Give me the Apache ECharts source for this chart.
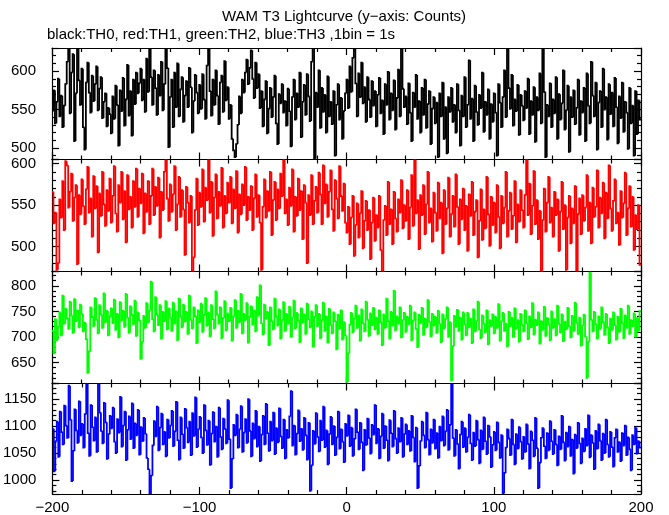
<!DOCTYPE html>
<html><head><meta charset="utf-8">
<script src="https://cdn.jsdelivr.net/npm/echarts@6/dist/echarts.min.js"></script>
<style>html,body{margin:0;padding:0;background:#fff}#c{width:669px;height:515px}</style>
</head><body><div id="c"></div>
<script>
// Counts per 1 s bin, from t = -200 s to t = +200 s
const th0 = [
548,575,532,560,590,541,568,527,555,583,612,630,545,598,622,509,571,630,588,556,
603,527,498,585,611,572,546,594,561,583,606,549,577,592,539,560,571,528,552,544,
519,567,538,581,556,503,575,548,591,529,563,608,542,574,516,589,557,598,571,584,
603,562,589,547,616,573,630,592,556,601,578,543,595,568,612,549,583,630,604,501,
566,589,527,598,553,610,541,576,592,534,568,587,553,604,579,520,561,595,572,545,
582,551,596,563,538,607,630,574,542,589,556,601,568,531,585,594,547,613,562,579,
538,556,512,497,488,505,530,567,545,589,572,598,615,583,604,627,590,565,611,578,
596,552,574,528,563,587,519,551,578,540,566,594,532,505,570,558,583,546,561,529,
577,548,502,566,589,537,571,553,598,514,560,582,543,596,567,535,612,630,486,572,
553,601,526,578,547,569,520,593,541,560,531,574,490,556,583,537,565,512,548,571,
589,552,606,573,617,630,584,541,597,566,611,558,579,534,592,563,540,587,555,574,
528,569,591,545,562,518,583,556,599,537,571,549,588,524,565,602,541,630,577,553,
567,531,584,546,509,572,553,595,538,561,520,578,543,589,526,557,574,505,551,566,
532,559,488,571,541,585,512,553,493,566,547,578,534,556,520,583,549,503,568,541,
592,527,556,614,538,564,509,581,547,530,569,552,598,521,560,543,576,512,557,534,
571,546,490,583,559,527,566,601,540,630,578,551,595,529,563,548,582,517,569,555,
536,574,552,590,518,561,543,579,508,566,549,597,532,630,573,488,556,541,584,527,
563,545,592,512,570,537,558,601,524,549,581,495,566,540,575,531,552,589,517,561,
546,578,509,597,555,532,612,568,541,585,498,559,574,527,603,550,566,511,583,544,
572,528,591,553,506,567,539,585,521,560,546,499,578,532,555,490,574,518,562,537
];
const th1 = [
566,528,541,472,480,557,535,579,520,603,598,547,566,588,531,559,574,479,562,539,
581,549,527,569,596,541,558,512,585,546,573,493,564,537,590,551,525,568,543,582,
529,561,597,540,518,574,553,590,533,567,505,586,545,560,523,579,548,594,536,570,
552,588,516,564,542,579,527,561,594,538,572,549,583,511,566,544,590,605,558,531,
575,542,563,597,520,551,584,536,568,545,490,572,553,529,561,470,487,544,582,526,
565,548,593,530,571,556,605,541,578,513,559,587,534,566,549,595,523,561,540,577,
553,584,528,569,546,591,517,563,539,575,550,596,532,560,544,573,520,558,587,536,
562,529,472,548,581,535,567,543,590,514,556,578,532,569,546,588,561,605,540,557,
526,571,549,593,518,560,537,582,544,567,509,574,553,480,562,538,586,527,555,572,
541,589,563,527,598,552,575,536,566,592,545,519,580,558,534,597,561,543,576,529,
517,548,503,535,561,489,526,552,511,540,567,498,531,555,520,544,485,529,559,507,
538,523,561,496,470,532,549,514,578,527,545,503,566,534,518,557,541,580,522,550,
531,568,509,547,586,525,605,540,556,497,562,538,574,515,551,590,529,546,506,565,
541,519,577,534,553,492,568,527,546,583,512,539,561,524,587,548,503,557,533,570,
520,549,495,563,537,578,514,542,556,487,531,569,508,545,522,584,539,501,560,526,
553,517,574,536,498,561,528,547,590,512,543,565,521,537,579,505,551,530,568,544,
523,562,605,538,576,515,549,591,527,556,509,543,471,532,570,518,553,584,529,547,
512,566,538,557,495,542,578,521,550,472,535,561,504,546,528,573,470,539,558,515,
562,531,547,586,519,553,504,571,536,548,592,523,559,540,577,510,565,534,598,546,
519,555,581,528,541,502,567,535,552,589,514,546,573,524,560,496,538,521,550,478
];
const th2 = [
712,668,735,694,720,748,703,781,726,755,737,716,769,742,708,774,731,752,719,763,
745,711,728,696,630,672,758,739,721,776,734,707,762,744,718,785,729,751,703,740,
756,727,773,714,745,699,768,732,751,720,784,738,708,760,743,725,771,702,748,733,
657,690,741,718,766,729,752,808,735,711,778,744,723,762,697,749,731,770,715,756,
738,712,767,726,750,694,775,740,719,763,730,749,706,781,734,717,758,741,688,752,
729,765,710,743,776,722,748,701,762,735,717,789,744,726,758,698,737,770,713,746,
731,757,693,740,772,718,751,729,784,707,745,733,766,689,739,760,724,752,711,778,
742,801,727,705,763,736,749,684,758,731,715,775,740,722,754,697,733,768,712,745,
726,759,700,738,771,717,747,732,690,756,728,744,706,765,735,719,750,681,739,762,
721,745,698,733,767,712,740,689,755,724,707,748,731,676,743,716,752,695,729,703,
612,668,724,747,709,736,761,718,742,693,754,727,711,769,734,702,746,723,757,715,
738,706,752,729,684,744,718,775,731,697,749,722,790,713,740,726,758,699,733,747,
710,739,725,761,694,732,748,716,680,743,727,757,704,736,719,772,730,701,745,722,
739,708,751,726,690,744,717,735,758,700,729,615,682,741,720,753,712,738,695,748,
725,703,747,719,736,688,754,711,731,769,715,698,742,726,709,752,686,733,721,744,
707,739,718,764,693,730,747,712,726,682,749,721,738,700,756,716,733,691,745,724,
711,752,727,696,740,719,766,705,734,723,748,687,731,714,759,702,737,725,694,750,
718,735,703,761,726,709,744,692,730,715,757,721,699,741,712,767,728,706,738,683,
722,743,701,620,690,826,734,711,749,725,697,740,716,758,729,704,745,719,688,736,
714,748,723,695,739,710,755,727,698,742,718,761,706,733,721,746,700,737,712,751
];
const th3 = [
1095,1016,1072,1108,1043,1127,1089,1066,1138,1101,1078,1175,1112,998,1054,1131,1092,1069,1146,1083,
1104,1060,1122,1179,1087,1045,1139,1098,1073,1116,1052,1179,1125,1091,1068,1143,1107,1039,1085,1119,
1096,1134,1071,1050,1113,1088,1154,1062,1101,1127,1037,1093,1118,1076,1142,1059,1105,1083,1130,1047,
1098,1072,1115,1086,1041,1020,974,1008,1064,1109,1081,1136,1055,1097,1123,1066,1089,1044,1112,1078,
1101,1128,1063,1090,1145,1074,1038,1116,1085,1059,1132,1097,1070,1108,1046,1124,1082,1153,1061,1094,
1117,1079,1050,1139,1092,1065,1110,1028,1086,1126,1071,1099,1043,1134,1080,1057,1114,1095,1068,1148,
1076,985,1039,1102,1083,1121,1060,1094,1137,1052,1088,1113,1069,1150,1091,1044,1105,1077,1128,1062,
1099,1035,1084,1119,1066,1141,1087,1054,1108,1073,1125,1048,1096,1070,1133,1081,1059,1112,1040,1093,
1078,1118,1165,1064,1101,1047,1086,1129,1072,1095,1056,1115,1083,1038,1106,980,1027,1091,1067,1124,
1080,1053,1110,1074,1136,1061,1092,1029,1085,1117,1066,1100,1046,1079,1127,1058,1094,1071,1033,1104,
1082,1120,1063,1097,1045,1076,1131,1089,1057,1106,1070,1018,1093,1065,1114,1078,1049,1102,1084,1139,
1068,1095,1040,1081,1123,1059,1100,1074,1036,1111,1087,1062,1128,1077,1050,1096,1071,1115,1043,1085,
1103,1066,1091,1054,1119,1079,1034,1097,985,1026,1072,1108,1083,1060,1125,1075,1047,1094,1069,1112,
1058,1087,1041,1099,1073,1118,1064,1090,1130,1056,1102,1179,1078,1045,1093,1067,1021,1084,1108,1061,
1096,1052,1079,1121,1068,1037,1088,1063,1110,1075,1031,1092,1057,1116,1072,1048,1101,1080,1024,1065,
1089,1055,1107,1070,1041,1083,975,1013,1060,1094,1077,1046,1112,1066,1029,1085,1058,1098,1071,1039,
1080,1052,1103,1067,1021,1090,1074,1044,1115,1059,985,1032,1078,1096,1063,1040,1087,1055,1109,1072,
1048,1093,1066,1027,1081,1057,1119,1070,1036,1088,1062,1099,1045,1075,1012,1084,1059,1106,1068,1031,
1077,1053,1095,1064,1120,1042,1083,1069,1020,1091,1058,1103,1073,1037,1086,1050,1112,1066,1043,1089,
1061,1025,1078,1094,1052,1070,1035,1087,1064,1101,1046,1079,1057,1018,1083,1066,1097,1049,1072,1060
];
const binStart = -200;     // first bin start time (s)
const binWidth = 1;        // 1bin = 1s
const xTicks = [-200, -100, 0, 100, 200];
const yTicks = [[500, 550, 600], [500, 550, 600], [650, 700, 750, 800], [1000, 1050, 1100, 1150]];
const yRanges = [[485, 630], [470, 605], [609, 828], [974, 1179]];

const seriesData = [th0, th1, th2, th3];
const colors = ['#000000', '#ff0000', '#00ff00', '#0000ff'];
const FONT = "'Liberation Sans', Arial, Helvetica, sans-serif";
const tops = [48, 159.5, 271.5, 383.5];
const heights = [111.5, 112, 112, 112];

// each item: [bin start time, previous bin value, this bin value]
function histItems(vals) {
  return vals.map((v, k) => [binStart + k * binWidth, k > 0 ? vals[k - 1] : v, v]);
}

const grids = [], xAxes = [], yAxes = [], series = [];
for (let i = 0; i < 4; i++) {
  grids.push({left: 52, right: 28, top: tops[i], height: heights[i], containLabel: false});
  const common = {
    type: 'value', gridIndex: i, min: xTicks[0], max: xTicks[xTicks.length - 1],
    interval: xTicks[1] - xTicks[0],
    axisLine: {show: true, onZero: false, lineStyle: {color: '#000', width: 1.2}},
    axisTick: {show: true, inside: true, length: 7, lineStyle: {color: '#000', width: 1.2}},
    minorTick: {show: true, splitNumber: 5, length: 4, lineStyle: {color: '#000', width: 1.2}},
    splitLine: {show: false}, minorSplitLine: {show: false}
  };
  xAxes.push(Object.assign({}, common, {
    position: 'bottom',
    axisLabel: {show: i === 3, color: '#000', fontSize: 15, fontFamily: FONT, margin: 6,
      formatter: v => (xTicks.indexOf(v) >= 0 ? String(v).replace('-', '\u2212') : '')}
  }));
  xAxes.push(Object.assign({}, common, {position: 'top', axisLabel: {show: false}}));
  const yr = yRanges[i];
  const tickStep = yTicks[i][1] - yTicks[i][0];
  const ycommon = {
    type: 'value', gridIndex: i, min: yr[0], max: yr[1], minInterval: tickStep, maxInterval: tickStep,
    axisLine: {show: true, onZero: false, lineStyle: {color: '#000', width: 1.2}},
    axisTick: {show: true, inside: true, length: 7, lineStyle: {color: '#000', width: 1.2}},
    minorTick: {show: true, splitNumber: 5, length: 4, lineStyle: {color: '#000', width: 1.2}},
    splitLine: {show: false}, minorSplitLine: {show: false}
  };
  yAxes.push(Object.assign({}, ycommon, {
    position: 'left',
    axisLabel: {show: true, color: '#000', fontSize: 15, fontFamily: FONT, margin: 16,
      showMinLabel: false, showMaxLabel: false,
      formatter: v => (yTicks[i].indexOf(v) >= 0 ? String(v) : '')}
  }));
  yAxes.push(Object.assign({}, ycommon, {position: 'right', axisLabel: {show: false}}));
  const color = colors[i];
  series.push({
    type: 'custom', xAxisIndex: 2 * i, yAxisIndex: 2 * i, data: histItems(seriesData[i]),
    clip: true, silent: true, animation: false,
    encode: {x: 0, y: [1, 2]},
    renderItem: function (params, api) {
      const t0 = api.value(0), prev = api.value(1), cur = api.value(2);
      const p0 = api.coord([t0, prev]);
      const p1 = api.coord([t0, cur]);
      const p2 = api.coord([t0 + binWidth, cur]);
      return {type: 'polyline', silent: true,
        shape: {points: [p0, p1, p2]},
        style: {stroke: color, lineWidth: 1.8, fill: null, lineJoin: 'miter', lineCap: 'butt'}};
    }
  });
}

const chart = echarts.init(document.getElementById('c'), null, {renderer: 'canvas'});
chart.setOption({
  animation: false,
  backgroundColor: '#fff',
  grid: grids, xAxis: xAxes, yAxis: yAxes, series: series,
  graphic: [
    {type: 'text', left: 222, top: 9, style: {text: 'WAM T3 Lightcurve (y\u2212axis: Counts)', font: '15px ' + FONT, fill: '#000'}},
    {type: 'text', left: 47, top: 27, style: {text: 'black:TH0, red:TH1, green:TH2, blue:TH3 ,1bin = 1s', font: '15px ' + FONT, fill: '#000'}}
  ]
});
</script>
</body></html>
